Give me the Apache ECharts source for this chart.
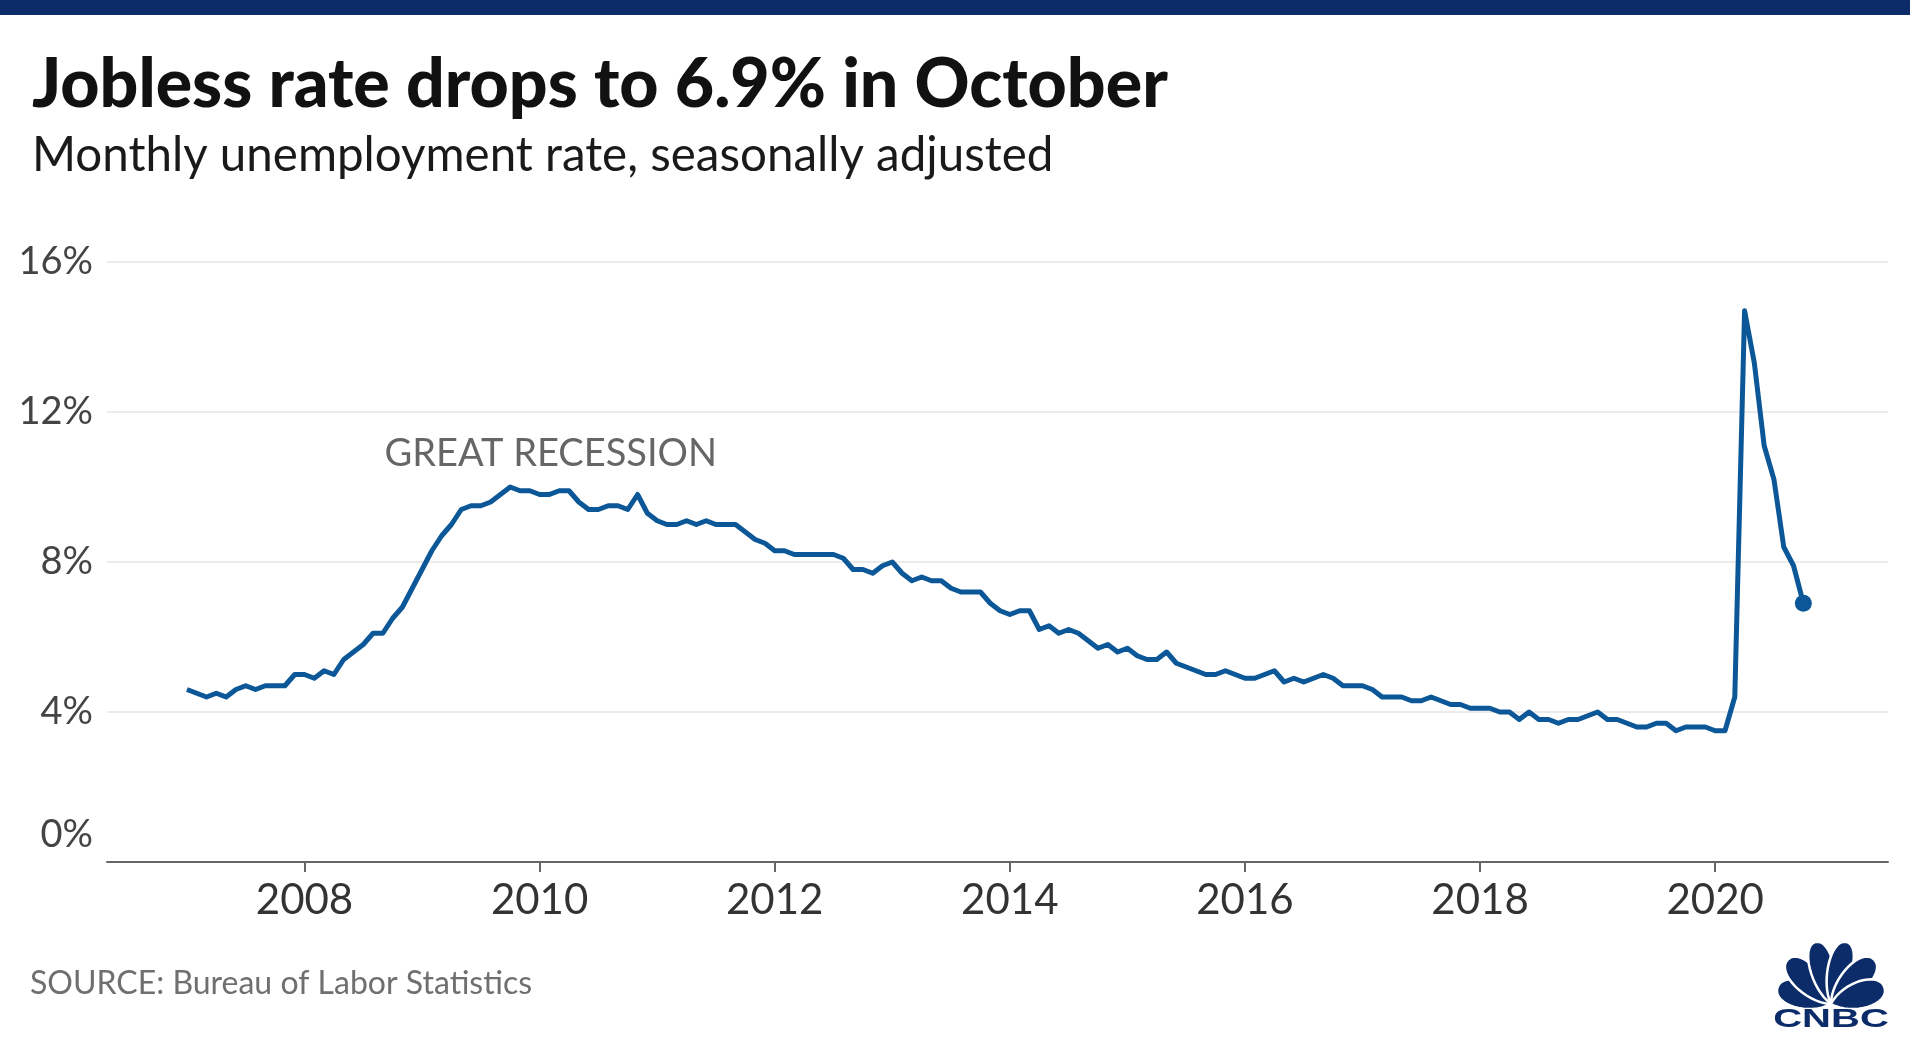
<!DOCTYPE html>
<html>
<head>
<meta charset="utf-8">
<script src="https://cdn.jsdelivr.net/npm/echarts@6/dist/echarts.min.js"></script>
<style>
html,body{margin:0;padding:0;background:#fff;}
#chart{width:1910px;height:1051px;}
</style>
</head>
<body>
<div id="chart"></div>
<script>
// ---- Data (monthly US unemployment rate, %, seasonally adjusted) ----
const startYear = 2007;
const rate2007 = [4.6, 4.5, 4.4, 4.5, 4.4, 4.6, 4.7, 4.6, 4.7, 4.7, 4.7, 5.0];
const rate2008 = [5.0, 4.9, 5.1, 5.0, 5.4, 5.6, 5.8, 6.1, 6.1, 6.5, 6.8, 7.3];
const rate2009 = [7.8, 8.3, 8.7, 9.0, 9.4, 9.5, 9.5, 9.6, 9.8, 10.0, 9.9, 9.9];
const rate2010 = [9.8, 9.8, 9.9, 9.9, 9.6, 9.4, 9.4, 9.5, 9.5, 9.4, 9.8, 9.3];
const rate2011 = [9.1, 9.0, 9.0, 9.1, 9.0, 9.1, 9.0, 9.0, 9.0, 8.8, 8.6, 8.5];
const rate2012 = [8.3, 8.3, 8.2, 8.2, 8.2, 8.2, 8.2, 8.1, 7.8, 7.8, 7.7, 7.9];
const rate2013 = [8.0, 7.7, 7.5, 7.6, 7.5, 7.5, 7.3, 7.2, 7.2, 7.2, 6.9, 6.7];
const rate2014 = [6.6, 6.7, 6.7, 6.2, 6.3, 6.1, 6.2, 6.1, 5.9, 5.7, 5.8, 5.6];
const rate2015 = [5.7, 5.5, 5.4, 5.4, 5.6, 5.3, 5.2, 5.1, 5.0, 5.0, 5.1, 5.0];
const rate2016 = [4.9, 4.9, 5.0, 5.1, 4.8, 4.9, 4.8, 4.9, 5.0, 4.9, 4.7, 4.7];
const rate2017 = [4.7, 4.6, 4.4, 4.4, 4.4, 4.3, 4.3, 4.4, 4.3, 4.2, 4.2, 4.1];
const rate2018 = [4.1, 4.1, 4.0, 4.0, 3.8, 4.0, 3.8, 3.8, 3.7, 3.8, 3.8, 3.9];
const rate2019 = [4.0, 3.8, 3.8, 3.7, 3.6, 3.6, 3.7, 3.7, 3.5, 3.6, 3.6, 3.6];
const rate2020 = [3.5, 3.5, 4.4, 14.7, 13.3, 11.1, 10.2, 8.4, 7.9, 6.9];

const yearTicks = [2008, 2010, 2012, 2014, 2016, 2018, 2020];
const annotationText = 'GREAT RECESSION';
const annotationAt = [2008.68, 10.9];

const titleText = 'Jobless rate drops to 6.9% in October';
const subtitleText = 'Monthly unemployment rate, seasonally adjusted';
const sourceText = 'SOURCE: Bureau of Labor Statistics';

// ---- Build series ----
const allYears = [rate2007, rate2008, rate2009, rate2010, rate2011, rate2012, rate2013,
  rate2014, rate2015, rate2016, rate2017, rate2018, rate2019, rate2020];
const points = [];
allYears.forEach((arr, yi) => {
  arr.forEach((v, m) => points.push([startYear + yi + m / 12, v]));
});
const lastPoint = points[points.length - 1];

const FONT = 'Lato, "Noto Sans", sans-serif';
const NAVY = '#0c2c69';
const LINE = '#0b5797';

const chart = echarts.init(document.getElementById('chart'), null, {renderer: 'canvas'});

// teardrop feather polygon (logo decoration)
function featherPts(len, w) {
  const bez = (p0, p1, p2, p3, t) => {
    const u = 1 - t;
    return u*u*u*p0 + 3*u*u*t*p1 + 3*u*t*t*p2 + t*t*t*p3;
  };
  const pts = [];
  const N = 16;
  for (let i = 0; i <= N; i++) {
    const t = i / N;
    pts.push([bez(0, -w, -w, 0, t), bez(0, -len*0.3, -len, -len, t)]);
  }
  for (let i = 1; i <= N; i++) {
    const t = i / N;
    pts.push([bez(0, w, w, 0, t), bez(-len, -len, -len*0.3, 0, t)]);
  }
  return pts;
}
const cx = 1831, cy = 1004;
const featherDefs = [
  {a: -73, l: 56, w: 18}, {a: -44, l: 62, w: 18}, {a: -14, l: 64, w: 16},
  {a: 14, l: 64, w: 16}, {a: 44, l: 62, w: 18}, {a: 73, l: 56, w: 18}
];
const logoEls = featherDefs.map(f => ({
  type: 'polygon',
  x: cx, y: cy,
  rotation: -f.a * Math.PI / 180,
  shape: {points: featherPts(f.l, f.w)},
  style: {fill: NAVY, stroke: '#fff', lineWidth: 2.5},
  z: 10
}));
logoEls.push({
  type: 'text', x: 1831, y: 1020, scaleX: 1.6,
  style: {text: 'CNBC', fill: NAVY, font: '900 25px "Liberation Sans", Arial, sans-serif',
    align: 'center', verticalAlign: 'middle'},
  z: 10
});

const option = {
  backgroundColor: '#fff',
  animation: false,
  title: [
    {text: titleText, left: 27, top: 46,
      textStyle: {fontFamily: FONT, fontSize: 68, fontWeight: 900, color: '#111'}},
    {text: subtitleText, left: 27, top: 127,
      textStyle: {fontFamily: FONT, fontSize: 47.5, fontWeight: 'normal', color: '#1a1a1a'}}
  ],
  grid: {left: 107, right: 22, top: 262, bottom: 189, containLabel: false},
  xAxis: {
    type: 'value', min: 2006.32, max: 2021.47,
    axisLine: {show: true, lineStyle: {color: '#666', width: 2}},
    axisTick: {show: true, customValues: yearTicks, length: 10, lineStyle: {color: '#666', width: 2}},
    axisLabel: {customValues: yearTicks, formatter: v => String(Math.round(v)),
      fontFamily: FONT, fontSize: 42, color: '#333', margin: 17},
    splitLine: {show: false}
  },
  yAxis: {
    type: 'value', min: 0, max: 16, interval: 4,
    axisLine: {show: false}, axisTick: {show: false},
    splitLine: {show: true, lineStyle: {color: '#e4e4e4', width: 1.5}},
    axisLabel: {
      fontFamily: FONT, fontSize: 38, color: '#444', margin: 14,
      formatter: v => v === 0 ? '{z|0%}' : v + '%',
      rich: {z: {fontFamily: FONT, fontSize: 38, color: '#444', padding: [0, 0, 54, 0]}}
    }
  },
  series: [
    {
      type: 'line', data: points, symbol: 'none', showSymbol: false,
      lineStyle: {color: LINE, width: 5, join: 'round'},
      markPoint: {
        symbol: 'circle', symbolSize: 0,
        label: {show: true, position: 'right', distance: 0, formatter: annotationText,
          fontFamily: FONT, fontSize: 38, color: '#666'},
        data: [{coord: annotationAt}]
      },
      z: 3
    },
    {
      type: 'scatter', data: [lastPoint], symbol: 'circle', symbolSize: 17,
      itemStyle: {color: LINE, opacity: 1}, z: 4
    }
  ],
  graphic: [
    {type: 'rect', x: 0, y: 0, shape: {width: 1910, height: 15}, style: {fill: NAVY}},
    {type: 'text', x: 30, y: 968,
      style: {text: sourceText, fill: '#6f6f6f', font: '32px ' + FONT}},
    ...logoEls
  ]
};
chart.setOption(option);
</script>
</body>
</html>
